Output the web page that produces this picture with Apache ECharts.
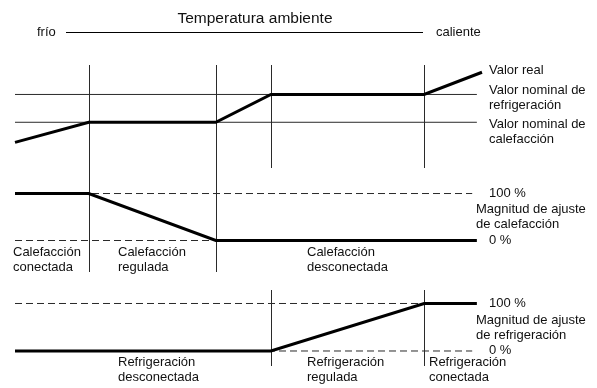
<!DOCTYPE html>
<html>
<head>
<meta charset="utf-8">
<script src="https://cdn.jsdelivr.net/npm/echarts/dist/echarts.min.js"></script>
<style>
  html, body { margin: 0; padding: 0; background: #fff; }
  #chart { width: 597px; height: 388px; }
</style>
</head>
<body>
<div id="chart"></div>
<script>
// Room temperature runs from cold (0) to hot (100) along the x axis.
const regionBounds = [15.8, 43.0, 54.8, 87.6];   // boundaries between operating regions
const heatingBounds = [15.8, 43.0];
const coolingBounds = [54.8, 87.6];
const lineEnd = 98.9;
const dashEnd = 97.9;

// Setpoints and actual room temperature (°C)
const heatingSetpoint = 20;
const coolingSetpoint = 24;
const actualTempX = [0, 15.8, 43.0, 54.8, 87.6, 100];
const actualTempY = [17.1, 20, 20, 24, 24, 27.2];

// Controller output (%)
const heatingOutX = [0, 15.8, 43.0, 98.9];
const heatingOutY = [100, 100, 0, 0];
const coolingOutX = [0, 54.8, 87.6, 98.9];
const coolingOutY = [0, 0, 100, 100];
const outputLevels = [100, 0];
const outputLevelLabels = ['100 %', '0 %'];

// Texts
const titleText = 'Temperatura ambiente';
const coldText = 'frío';
const hotText = 'caliente';
const tempLabels = ['Valor real', 'Valor nominal de\nrefrigeración', 'Valor nominal de\ncalefacción'];
const heatingOutLabel = 'Magnitud de ajuste\nde calefacción';
const coolingOutLabel = 'Magnitud de ajuste\nde refrigeración';
const heatingStates = ['Calefacción\nconectada', 'Calefacción\nregulada', 'Calefacción\ndesconectada'];
const coolingStates = ['Refrigeración\ndesconectada', 'Refrigeración\nregulada', 'Refrigeración\nconectada'];

const FONT = "'Liberation Sans', Arial, Helvetica, sans-serif";
const INK = '#111';
const THIN = '#2a2a2a';

const zip = (xs, ys) => xs.map((x, i) => [x, ys[i]]);

const chart = echarts.init(document.getElementById('chart'), null, { renderer: 'canvas' });

const grids = [
  { left: 15, width: 467, top: 65, height: 103 },
  { left: 15, width: 467, top: 168, height: 104 },
  { left: 15, width: 467, top: 290, height: 76 }
];
const yRanges = [[13.42, 28.24], [-67, 154.3], [-31.6, 128.4]];

const xAxes = grids.map((g, i) => ({
  type: 'value', gridIndex: i, min: 0, max: 100, show: false
}));
const yAxes = grids.map((g, i) => ({
  type: 'value', gridIndex: i, min: yRanges[i][0], max: yRanges[i][1], show: false
}));

function vlines(xs) {
  return {
    silent: true,
    symbol: 'none',
    label: { show: false },
    emphasis: { disabled: true },
    animation: false,
    lineStyle: { color: THIN, width: 1, type: 'solid' },
    data: xs.map(x => ({ xAxis: x }))
  };
}

function thinLine(idx, data, dashed, extra) {
  return Object.assign({
    type: 'line', xAxisIndex: idx, yAxisIndex: idx, data: data,
    symbol: 'none', silent: true, z: 2,
    lineStyle: { color: THIN, width: 1, type: dashed ? [7, 4] : 'solid' }
  }, extra || {});
}

function thickLine(idx, data) {
  return {
    type: 'line', xAxisIndex: idx, yAxisIndex: idx, data: data,
    symbol: 'none', silent: true, z: 5, clip: false,
    lineStyle: { color: '#000', width: 3, join: 'miter' }
  };
}

const series = [
  // temperature panel
  thinLine(0, [[0, coolingSetpoint], [lineEnd, coolingSetpoint]], false, { markLine: vlines(regionBounds) }),
  thinLine(0, [[0, heatingSetpoint], [lineEnd, heatingSetpoint]], false),
  thickLine(0, zip(actualTempX, actualTempY)),
  // heating output panel
  thinLine(1, [[0, outputLevels[0]], [dashEnd, outputLevels[0]]], true, { markLine: vlines(heatingBounds) }),
  thinLine(1, [[0, outputLevels[1]], [dashEnd, outputLevels[1]]], true),
  thickLine(1, zip(heatingOutX, heatingOutY)),
  // cooling output panel
  thinLine(2, [[0, outputLevels[0]], [dashEnd, outputLevels[0]]], true, { markLine: vlines(coolingBounds) }),
  thinLine(2, [[0, outputLevels[1]], [dashEnd, outputLevels[1]]], true),
  thickLine(2, zip(coolingOutX, coolingOutY))
];

function txt(text, x, y, opts) {
  opts = opts || {};
  return {
    type: 'text', x: x, y: y, silent: true, z: 10,
    style: {
      text: text,
      font: (opts.size || 13) + 'px ' + FONT,
      fill: INK,
      align: opts.align || 'left',
      verticalAlign: 'middle',
      lineHeight: opts.lh || 15
    }
  };
}

const graphic = [
  txt(titleText, 255, 19, { size: 15.5, align: 'center' }),
  txt(coldText, 37, 32),
  { type: 'line', silent: true, shape: { x1: 66, y1: 32.5, x2: 423, y2: 32.5 }, style: { stroke: '#000', lineWidth: 1.2 } },
  txt(hotText, 436, 32),

  txt(tempLabels[0], 489, 70),
  txt(tempLabels[1], 489, 97.5),
  txt(tempLabels[2], 489, 131.5),

  txt(outputLevelLabels[0], 489, 193),
  txt(heatingOutLabel, 476, 216.7, { lh: 14.5 }),
  txt(outputLevelLabels[1], 489, 240),

  txt(outputLevelLabels[0], 489, 303.5),
  txt(coolingOutLabel, 476, 327.7, { lh: 14.5 }),
  txt(outputLevelLabels[1], 489, 350),

  txt(heatingStates[0], 13, 259.5),
  txt(heatingStates[1], 118, 259.5),
  txt(heatingStates[2], 307, 259.5),

  txt(coolingStates[0], 118, 369.5),
  txt(coolingStates[1], 307, 369.5),
  txt(coolingStates[2], 429, 369.5)
];

chart.setOption({
  animation: false,
  backgroundColor: '#fff',
  grid: grids,
  xAxis: xAxes,
  yAxis: yAxes,
  series: series,
  graphic: graphic
});
</script>
</body>
</html>
